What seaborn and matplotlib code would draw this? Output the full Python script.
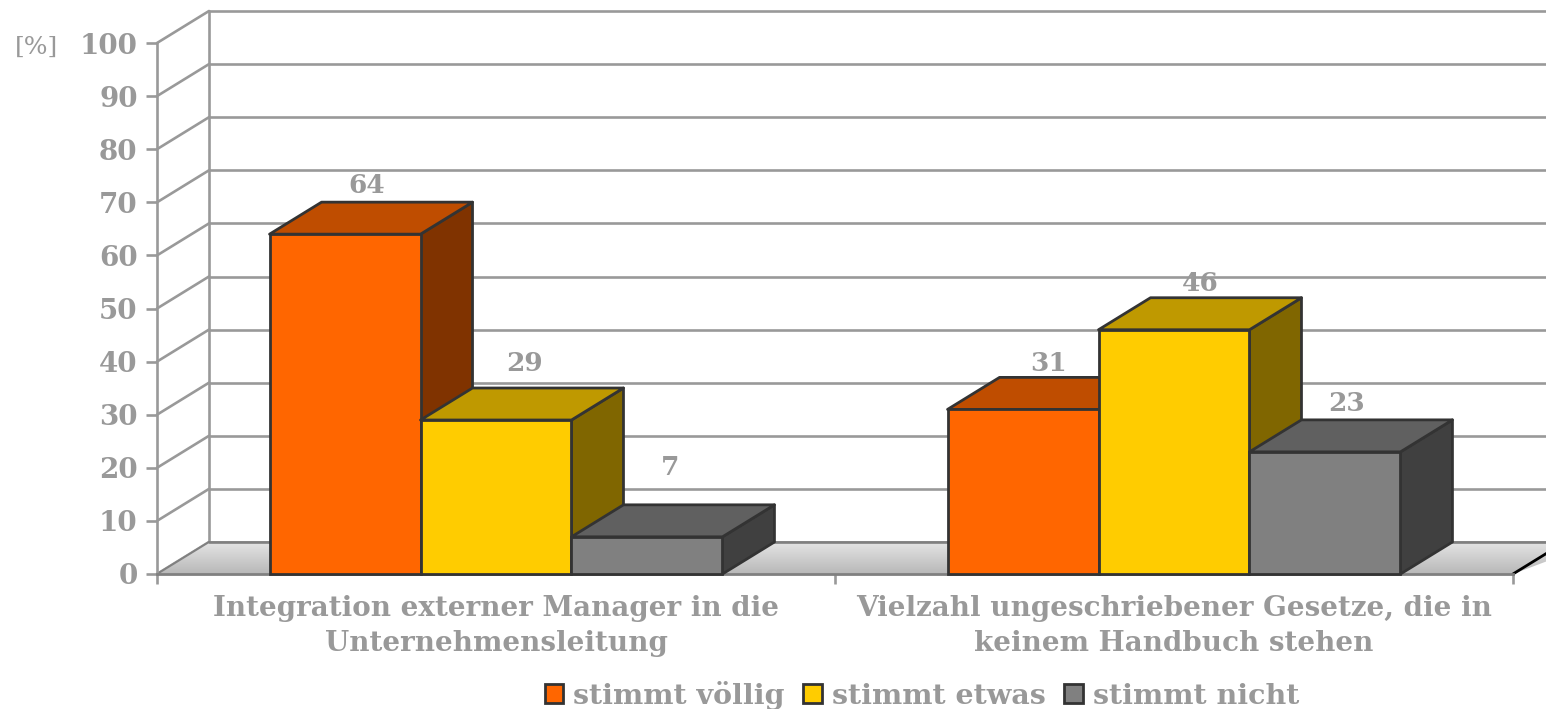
"""
Balkendiagramm mit 3D-Optik: Zustimmung je Aussage
"""

import numpy as np
import pandas as pd
import matplotlib
matplotlib.use('Agg')
import matplotlib.pyplot as plt
from matplotlib.colors import LinearSegmentedColormap
from matplotlib.patches import Polygon
from matplotlib.ticker import FixedLocator
import seaborn as sns

# Daten
CATEGORIES = ['Integration externer Manager in die\nUnternehmensleitung',
              'Vielzahl ungeschriebener Gesetze, die in\nkeinem Handbuch stehen']
SERIES = ['stimmt völlig', 'stimmt etwas', 'stimmt nicht']
VALUES = [[64, 31], [29, 46], [7, 23]]
Y_TICKS = [0, 10, 20, 30, 40, 50, 60, 70, 80, 90, 100]

# Farben: Vorderseite, Oberseite, Seite
FRONT = ['#ff6600', '#ffcc00', '#808080']
TOP = ['#bf4d00', '#bf9900', '#606060']
SIDE = ['#803300', '#806600', '#404040']
GREY = '#999999'
EDGE = '#333333'

# Abstand der Wertebeschriftung zur Balkenkante, in Pixeln
LABEL_DX = [[22, 26], [29, 26], [23, 22]]
LABEL_DY = [[49, 46], [57, 46], [69, 48]]

W, H = 1546, 709
LEFT, RIGHT, BASE, TOP_Y = 157, 1513, 574, 43
PX_X = (RIGHT - LEFT) / 2       # Pixel je Kategorie
PX_Y = (BASE - TOP_Y) / 100     # Pixel je Prozentpunkt
DEPTH_X = 52 / PX_X
DEPTH_Y = 32 / PX_Y

sns.set_theme(style='white')
plt.rcParams['font.family'] = ['DejaVu Serif']
plt.rcParams['font.weight'] = 'bold'

rows = []
for name, vals in zip(SERIES, VALUES):
    for cat, v in zip(CATEGORIES, vals):
        rows.append({'cat': cat, 'serie': name, 'wert': v})
data = pd.DataFrame(rows)

fig = plt.figure(figsize=(W / 100, H / 100), dpi=100, facecolor='white')
ax = fig.add_axes([LEFT / W, 1 - BASE / H, (RIGHT - LEFT) / W, (BASE - TOP_Y) / H])
ax.set_facecolor('none')

sns.barplot(data=data, x='cat', y='wert', hue='serie', hue_order=SERIES,
            palette=FRONT, width=0.668, gap=0, dodge=True, ax=ax,
            edgecolor=EDGE, linewidth=2, saturation=1, errorbar=None)
ax.set_xlim(-0.5, 1.5)
ax.set_ylim(0, 100)
ax.set_xlabel('')
ax.set_ylabel('')

# Rueckwand und Hilfslinien
x0 = -0.5
x_edge = x0 + (W - LEFT) / PX_X
for v in Y_TICKS:
    ax.plot([x0, x0 + DEPTH_X], [v, v + DEPTH_Y], color=GREY, lw=1.9,
            clip_on=False, zorder=1)
    ax.plot([x0 + DEPTH_X, x_edge], [v + DEPTH_Y, v + DEPTH_Y], color=GREY, lw=1.9,
            clip_on=False, zorder=1)
ax.plot([x0 + DEPTH_X, x0 + DEPTH_X], [DEPTH_Y, 100 + DEPTH_Y], color=GREY, lw=1.9,
        clip_on=False, zorder=1)

# Boden mit Verlauf
floor = [(x0, 0), (x0 + DEPTH_X, DEPTH_Y), (x_edge + DEPTH_X, DEPTH_Y), (1.5, 0)]
floor_patch = Polygon(floor, closed=True, fc='none', ec='none', transform=ax.transData)
ax.add_patch(floor_patch)
floor_patch.set_clip_on(False)
cmap = LinearSegmentedColormap.from_list('boden', ['#e4e4e4', '#b8b8b8'])
im = ax.imshow(np.linspace(0, 1, 64).reshape(-1, 1), cmap=cmap, aspect='auto',
               extent=(x0, x_edge + DEPTH_X, 0, DEPTH_Y), origin='upper', zorder=1.5)
im.set_clip_box(fig.bbox)
im.set_clip_path(floor_patch)
ax.set_xlim(-0.5, 1.5)
ax.set_ylim(0, 100)
ax.plot([x0 + DEPTH_X, x_edge], [DEPTH_Y, DEPTH_Y], color='#808080', lw=1.9,
        clip_on=False, zorder=1.6)
ax.plot([x0, x0 + DEPTH_X], [0, DEPTH_Y], color='#808080', lw=1.4,
        clip_on=False, zorder=1.6)
ax.plot([1.5, 1.5 + DEPTH_X], [0, DEPTH_Y], color='black', lw=2,
        clip_on=False, zorder=1.6)

# Seiten- und Oberflaechen der Balken
for i, container in enumerate(ax.containers):
    z = 3 + i * 3
    for j, bar in enumerate(container.patches):
        bx, bw, bh = bar.get_x(), bar.get_width(), bar.get_height()
        side = [(bx + bw, 0), (bx + bw + DEPTH_X, DEPTH_Y),
                (bx + bw + DEPTH_X, bh + DEPTH_Y), (bx + bw, bh)]
        top = [(bx, bh), (bx + DEPTH_X, bh + DEPTH_Y),
               (bx + bw + DEPTH_X, bh + DEPTH_Y), (bx + bw, bh)]
        ax.add_patch(Polygon(side, closed=True, fc=SIDE[i], ec=EDGE, lw=2,
                             joinstyle='round', clip_on=False, zorder=z))
        ax.add_patch(Polygon(top, closed=True, fc=TOP[i], ec=EDGE, lw=2,
                             joinstyle='round', clip_on=False, zorder=z + 1))
        bar.set_zorder(z + 2)
        bar.set_clip_on(False)
        ax.annotate(str(VALUES[i][j]), (bx + bw / 2, bh),
                    xytext=(LABEL_DX[i][j], LABEL_DY[i][j]), textcoords='offset pixels',
                    ha='center', va='center', color=GREY, fontsize=19,
                    fontweight='bold', annotation_clip=False, zorder=20)

# Achsen
sns.despine(ax=ax, top=True, right=True)
ax.spines['left'].set_color(GREY)
ax.spines['left'].set_linewidth(1.9)
ax.spines['bottom'].set_color('#808080')
ax.spines['bottom'].set_linewidth(2)
ax.set_yticks(Y_TICKS)
ax.tick_params(axis='y', length=8, width=1.9, color=GREY, pad=6, left=True,
               labelsize=20, labelcolor=GREY)
ax.set_xticks([0, 1], CATEGORIES)
ax.xaxis.set_minor_locator(FixedLocator([-0.5, 0.5, 1.5]))
ax.tick_params(axis='x', which='major', length=0, pad=15, labelsize=20, labelcolor=GREY)
ax.tick_params(axis='x', which='minor', length=7.5, width=1.9, color=GREY, bottom=True)
for lab in ax.get_xticklabels():
    lab.set_linespacing(1.38)
    lab.set_fontweight('bold')
for lab in ax.get_yticklabels():
    lab.set_fontweight('bold')

fig.text(15 / W, 1 - 47 / H, '[%]', color=GREY, fontsize=18, fontweight='normal',
         ha='left', va='center')

sns.move_legend(ax, 'center', bbox_to_anchor=(922 / W, 1 - 695 / H),
                bbox_transform=fig.transFigure, ncol=3, frameon=False, title=None,
                labelcolor=GREY, prop={'size': 20.5, 'weight': 'bold'},
                handlelength=0.65, handleheight=0.6, handletextpad=0.36,
                columnspacing=0.65, borderpad=0, borderaxespad=0)

plt.savefig('out.png', dpi=100)
plt.close()
